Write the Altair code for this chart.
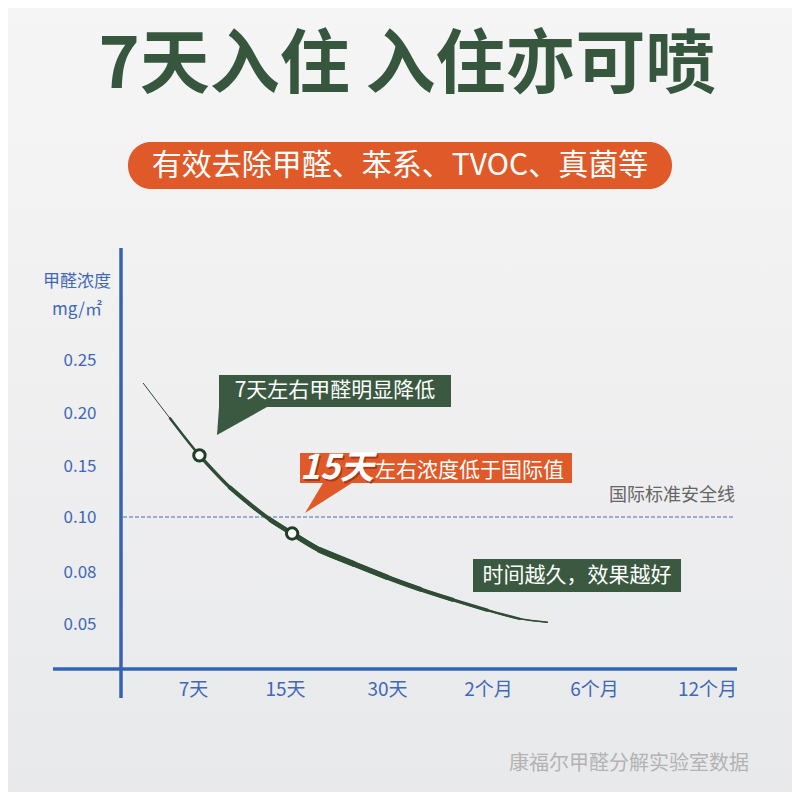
import json
import altair as alt
import pandas as pd

# ---------------- data ----------------
x_labels = ["7天", "15天", "30天", "2个月", "6个月", "12个月"]
x_pos = [0, 1, 2, 3, 4, 5]
y_ticks = [0.05, 0.08, 0.10, 0.15, 0.20, 0.25]

curve_t = [-0.54, -0.25, 0.07, 0.40, 0.84, 1.07, 1.34, 1.67, 2.00, 2.33, 2.65, 2.99, 3.30, 3.56]
curve_c = [0.228, 0.195, 0.160, 0.129, 0.099, 0.094, 0.088, 0.083, 0.077, 0.070, 0.064, 0.058, 0.053, 0.051]
curve_w = [0.5, 2.0, 3.5, 4.5, 5.0, 5.5, 6.0, 6.0, 5.5, 5.0, 4.5, 3.5, 2.0, 0.8]

marker_t = [0.07, 1.07]
marker_c = [0.160, 0.094]

standard_value = [0.10]

title_text = "7天入住  入住亦可喷"
subtitle_text = "有效去除甲醛、苯系、TVOC、真菌等"
y_title = ["甲醛浓度", "mg/㎡"]
standard_label = "国际标准安全线"
callout1 = "7天左右甲醛明显降低"
callout2_big = "15天"
callout2_rest = "左右浓度低于国际值"
callout3 = "时间越久，效果越好"
source_text = "康福尔甲醛分解实验室数据"

# ---------------- layout ----------------
FONT = "Noto Sans CJK SC"
W, H = 616, 418
OX, OY = 122, 250          # plot origin in page pixels
def px(x): return x - OX
def py(y): return y - OY

X_RANGE = [px(v) for v in [193, 285, 387, 488, 594, 707]]
Y_RANGE = [py(v) for v in [624, 572, 517, 466, 413, 360]]

DARK = "#3a5940"
ORANGE = "#e05a29"
BLUE = "#3464b0"
LBLUE = "#3f68b6"

one = pd.DataFrame({"k": [0]})

curve_df = pd.DataFrame({"t": curve_t, "c": curve_c, "w": curve_w})
marker_df = pd.DataFrame({"t": marker_t, "c": marker_c})
std_df = pd.DataFrame({"c": standard_value})

xscale = alt.Scale(domain=x_pos, range=X_RANGE, nice=False, zero=False)
yscale = alt.Scale(domain=y_ticks, range=Y_RANGE, nice=False, zero=False)

label_expr = json.dumps(x_labels, ensure_ascii=False) + "[datum.value]"

X = alt.X("t:Q", scale=xscale,
          axis=alt.Axis(values=x_pos, labelExpr=label_expr, domain=False, ticks=False, grid=False,
                        title=None, labelFontSize=19, labelColor=LBLUE, labelFont=FONT,
                        labelPadding=12, labelFlush=False, labelOverlap=False, zindex=2))
Y = alt.Y("c:Q", scale=yscale,
          axis=alt.Axis(values=y_ticks, format=".2f", domain=False, ticks=False, grid=False,
                        title=None, labelFontSize=17, labelColor=LBLUE, labelFont=FONT,
                        labelPadding=26, labelFlush=False, labelOverlap=False, zindex=2))

def rect(x1, y1, x2, y2, **kw):
    return alt.Chart(one).mark_rect(**kw).encode(
        x=alt.value(px(x1)), x2=alt.value(px(x2)), y=alt.value(py(y1)), y2=alt.value(py(y2)))

def text(s, x, y, **kw):
    return alt.Chart(one).mark_text(text=s, font=FONT, **kw).encode(
        x=alt.value(px(x)), y=alt.value(py(y)))

def tail(tip_x, tip_y, path, color):
    return alt.Chart(one).mark_point(shape=path, size=4, filled=True, color=color,
                                     opacity=1, strokeWidth=0).encode(
        x=alt.value(px(tip_x)), y=alt.value(py(tip_y)))

bg_grad = alt.LinearGradient(gradient="linear",
                             stops=[alt.GradientStop(color="#f5f5f6", offset=0),
                                    alt.GradientStop(color="#f0f0f1", offset=0.45),
                                    alt.GradientStop(color="#e8e9eb", offset=1)],
                             x1=0, x2=0, y1=0, y2=1)
background = rect(8, 8, 792, 792, color=bg_grad)

title = text(title_text, 407, 67, fontSize=70, fontWeight="bold", color="#36563d",
             align="center", baseline="middle")
pill = rect(128, 142, 672, 189, color=ORANGE, cornerRadius=23)
subtitle = text(subtitle_text, 400, 166, fontSize=30, color="white", align="center", baseline="middle")

ytitle1 = text(y_title[0], 77, 282, fontSize=17, color=LBLUE, align="center", baseline="middle")
ytitle2 = text(y_title[1], 77, 310, fontSize=17, color=LBLUE, align="center", baseline="middle")

yaxis_line = alt.Chart(one).mark_rule(color=BLUE, strokeWidth=3.5).encode(
    x=alt.value(px(121)), y=alt.value(py(248)), y2=alt.value(py(698)))
xaxis_line = alt.Chart(one).mark_rule(color=BLUE, strokeWidth=3.5).encode(
    y=alt.value(py(669)), x=alt.value(px(53)), x2=alt.value(px(737)))

std_line = alt.Chart(std_df).mark_rule(color="#4a6cb0", strokeWidth=1, strokeDash=[4, 2]).encode(
    y=Y, x=alt.value(px(123)), x2=alt.value(px(735)))
std_text = text(standard_label, 735, 496, fontSize=18, color="#666666", align="right", baseline="middle")

# tapered smooth curve: stacked smooth lines of decreasing extent
curve_layers = []
for th, sw in [(0.0, 1.0), (0.8, 1.6), (2.0, 2.4), (3.5, 3.3), (4.5, 4.1), (5.0, 4.7), (5.5, 5.3), (6.0, 5.8)]:
    curve_layers.append(
        alt.Chart(curve_df).transform_filter(alt.datum.w >= th)
        .mark_line(color="#2f4d35", strokeWidth=sw, interpolate="monotone", strokeCap="round")
        .encode(x=X, y=Y)
    )
markers = alt.Chart(marker_df).mark_circle(size=130, fill="white", stroke="#1f3d27",
                                            strokeWidth=3, opacity=1).encode(x=X, y=Y)

box1 = rect(219, 375, 451, 407, color=DARK)
tail1 = tail(217, 435, "M 2 -28 L 50 -28 L 0 0 Z", DARK)
txt1 = text(callout1, 335, 391, fontSize=21, color="white", align="center", baseline="middle")

box2 = rect(300, 453, 572, 483, color=ORANGE)
tail2 = tail(305, 513, "M 18 -30 L 47 -30 L 0 0 Z", ORANGE)
txt2_shadow = text(callout2_big, 301.5, 480.5, fontSize=34, fontWeight="bold", fontStyle="italic",
                   color="#a8391a", align="left", baseline="alphabetic")
txt2_big = text(callout2_big, 300, 479, fontSize=34, fontWeight="bold", fontStyle="italic",
                color="white", align="left", baseline="alphabetic")
txt2_rest = text(callout2_rest, 375, 477, fontSize=21, color="white", align="left", baseline="alphabetic")

box3 = rect(473, 559, 681, 592, color=DARK)
txt3 = text(callout3, 577, 576, fontSize=21, color="white", align="center", baseline="middle")

source = text(source_text, 749, 764, fontSize=20, color="#b3b3b3", align="right", baseline="middle")

chart = alt.layer(
    background, title, pill, subtitle, ytitle1, ytitle2,
    std_line, std_text, yaxis_line, xaxis_line,
    tail1, box1, txt1, tail2, box2, txt2_shadow, txt2_big, txt2_rest, box3, txt3,
    *curve_layers, markers, source,
).properties(
    width=W, height=H,
    padding={"left": OX - 8, "top": OY - 8, "right": 792 - OX - W, "bottom": 792 - OY - H},
    autosize=alt.AutoSizeParams(type="none"),
    background="#eeeff0",
).configure_view(stroke=None)

chart.save("out.html", embed_options={"renderer": "svg", "actions": False})
